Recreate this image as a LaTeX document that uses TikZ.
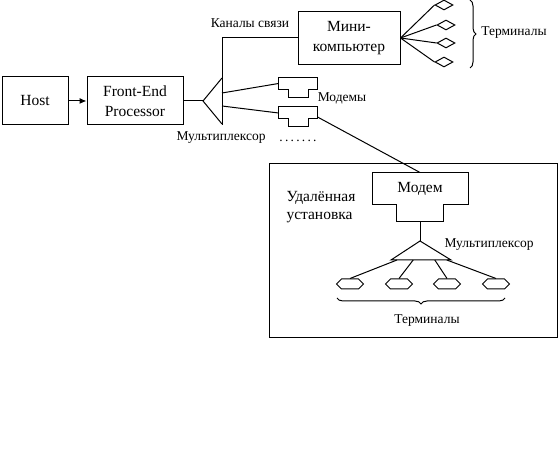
\documentclass[tikz,border=0pt]{standalone}
\usepackage{fontspec}
\setmainfont{Liberation Serif}
\usepackage{tikz}
\usetikzlibrary{shapes.geometric, shapes.symbols, arrows, arrows.meta, calc}
\usetikzlibrary{decorations.pathreplacing}
\tikzstyle{box} = [rectangle, text centered, align=center, draw=black, inner sep=0pt, font=\fontsize{15.5}{19.5}\selectfont]
\tikzstyle{modem} = [rectangle, minimum width=38pt, minimum height=19pt, inner sep=0pt]
\tikzstyle{term} = [diamond, draw=black, minimum width=18pt, minimum height=10pt, inner sep=0pt]
\tikzstyle{hexterm} = [signal, signal to=east and west, draw=black, minimum width=27pt, minimum height=10pt, inner sep=0pt]
\tikzstyle{lbl} = [inner sep=0pt, font=\fontsize{13.5}{15}\selectfont]
\tikzstyle{arrow} = [->,>={Latex[length=7pt,width=6pt]}]
\tikzstyle{brace} = [decorate, decoration={brace, amplitude=6pt}]

% outline of a modem: wide top part, narrow bottom part
\newcommand{\modemoutline}[3]{%
  \draw (#1.north west) -- (#1.north east) -- ([yshift=-#3]#1.north east)
    -- ([xshift=-#2,yshift=-#3]#1.north east) -- ([xshift=-#2]#1.south east)
    -- ([xshift=#2]#1.south west) -- ([xshift=#2,yshift=-#3]#1.north west)
    -- ([yshift=-#3]#1.north west) -- cycle;}

\begin{document}
\begin{tikzpicture}[node distance=100pt, x=1pt, y=1pt, line width=1pt]
\useasboundingbox (0,0) rectangle (559,470);

\node (host) [box, minimum width=66pt, minimum height=48pt] at (35,369) {Host};
\node (fep) [box, right of=host, minimum width=96pt, minimum height=48pt] {Front-End\\Processor};
\node (mini) [box, minimum width=102pt, minimum height=53pt] at (349,432) {Мини-\\компьютер};

% multiplexer
\coordinate (muxtip) at (203,369);
\coordinate (muxtop) at (222,392);
\coordinate (muxbot) at (222,346);
\coordinate (muxend) at (222,345);
\coordinate (muxa) at (222,377);
\coordinate (muxb) at (222,364);
\draw (muxtop) -- (muxtip) -- (muxbot);
\draw (mini.west) -| (muxend);
\node (chan) [lbl] at (250,447) {Каналы связи};
\node (muxlbl) [lbl] at (221,332) {Мультиплексор};

% modems
\node (modA) [modem] at (298,382.5) {};
\node (modB) [modem, below of=modA, yshift=70.5pt] {};
\modemoutline{modA}{9.5pt}{12pt}
\modemoutline{modB}{9.5pt}{12pt}
\node (modlbl) [lbl] at (342,372) {Модемы};
\node (dots) [lbl] at (298,329) {.\,.\,.\,.\,.\,.\,.};

% terminals of the mini computer
\node (t1) [term] at (444,465) {};
\node (t2) [term] at (446,445) {};
\node (t3) [term] at (446,427) {};
\node (t4) [term] at (444,408) {};
\draw [brace] (470,470) -- (470,402);
\node (termlbl) [lbl] at (514,437) {Терминалы};

% remote site
\node (rbox) [rectangle, draw=black, minimum width=288pt, minimum height=174pt] at (413,219) {};
\node (rmodem) [modem, minimum width=95pt, minimum height=48pt] at (420,273) {};
\modemoutline{rmodem}{24.5pt}{32pt}
\node (rmodemtxt) [box, draw=none, font=\fontsize{15.5}{18}\selectfont] at (420,281) {Модем};
\node (site) [box, draw=none, align=left, anchor=west, font=\fontsize{15.5}{18}\selectfont] at (286,263) {Удалённая\\установка};

\coordinate (rmuxtip) at (420,229);
\coordinate (rmuxl) at (391,210);
\coordinate (rmuxr) at (451,210);
\draw (rmuxtip) -- (rmuxl) -- (rmuxr) -- cycle;
\node (rmuxlbl) [lbl] at (489,225) {Мультиплексор};

\node (h1) [hexterm] at (350,186) {};
\node (h2) [hexterm] at (399,186) {};
\node (h3) [hexterm] at (447,186) {};
\node (h4) [hexterm] at (496,186) {};
\draw [brace] (505,172) -- (337,172);
\node (hexlbl) [lbl] at (427,149) {Терминалы};

\draw [arrow] (host) -- (fep);
\draw (fep.east) -- (muxtip);
\draw (muxa) -- ([yshift=-6pt]modA.north west);
\draw (muxb) -- ([yshift=-6pt]modB.north west);
\draw (modB.east) -- (rmodem.north);
\draw (mini.east) -- (t1.west);
\draw (mini.east) -- (t2.west);
\draw (mini.east) -- (t3.west);
\draw (mini.east) -- (t4.west);
\draw (rmodem.south) -- (rmuxtip);
\draw ($(rmuxl)!0.1!(rmuxr)$) -- (h1.north);
\draw ($(rmuxl)!0.37!(rmuxr)$) -- (h2.north);
\draw ($(rmuxl)!0.73!(rmuxr)$) -- (h3.north);
\draw ($(rmuxl)!0.93!(rmuxr)$) -- (h4.north);

\end{tikzpicture}
\end{document}
